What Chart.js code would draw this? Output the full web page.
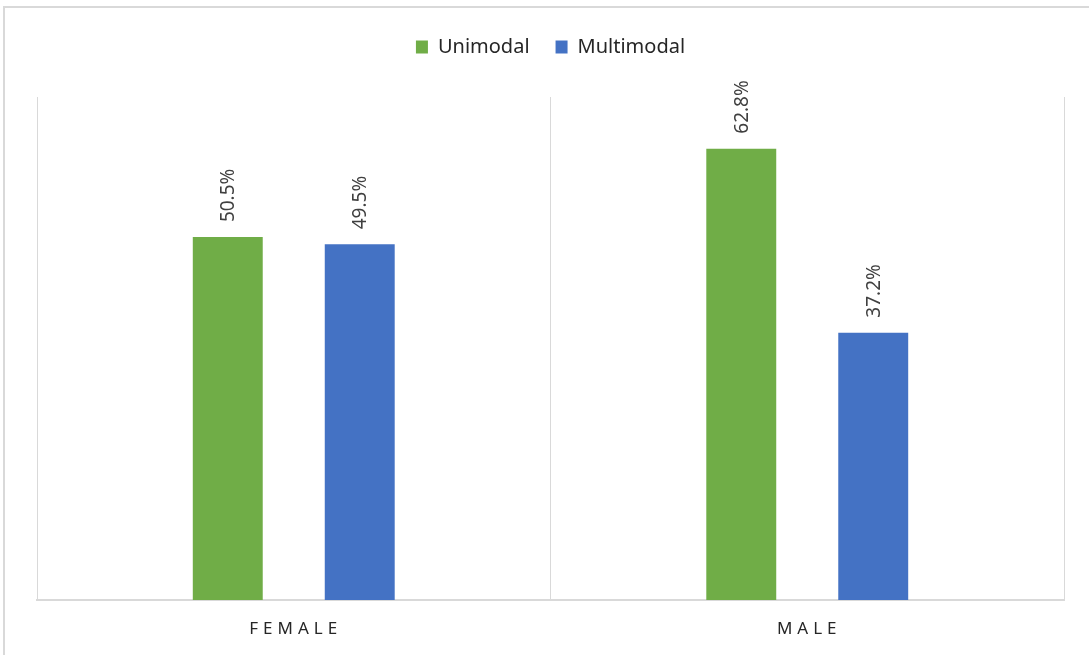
<!DOCTYPE html>
<html>
<head>
<meta charset="utf-8">
<script src="https://cdn.jsdelivr.net/npm/chart.js@4/dist/chart.umd.min.js"></script>
<style>
  html, body { margin: 0; padding: 0; background: #fff; }
  #wrap { width: 1089px; height: 655px; }
</style>
</head>
<body>
<div id="wrap"><canvas id="chart" width="1089" height="655"></canvas></div>
<script>
// data
const categories = ["FEMALE", "MALE"];
const unimodal = [50.5, 62.8];
const multimodal = [49.5, 37.2];
const yMax = 70;

const FONT = "'Noto Sans', sans-serif";

// border around the chart + rotated value labels + spaced category labels
const decorPlugin = {
  id: "decor",
  beforeInit(chart) {
    const fit = chart.legend.fit;
    chart.legend.fit = function () {
      fit.call(this);
      this.height += 30;
    };
  },
  beforeDraw(chart) {
    const ctx = chart.ctx;
    ctx.save();
    ctx.strokeStyle = "#d9d9d9";
    ctx.lineWidth = 2;
    ctx.beginPath();
    ctx.moveTo(4, 655);
    ctx.lineTo(4, 7);
    ctx.lineTo(1089, 7);
    ctx.stroke();
    ctx.restore();
  },
  afterDatasetsDraw(chart) {
    const ctx = chart.ctx;
    ctx.save();
    ctx.fillStyle = "#404040";
    ctx.font = "19px " + FONT;
    ctx.textAlign = "left";
    ctx.textBaseline = "middle";
    chart.data.datasets.forEach((ds, i) => {
      chart.getDatasetMeta(i).data.forEach((bar, j) => {
        ctx.save();
        ctx.translate(bar.x + 1, bar.y - 15);
        ctx.rotate(-Math.PI / 2);
        ctx.fillText(ds.data[j].toFixed(1) + "%", 0, 0);
        ctx.restore();
      });
    });
    // category labels with letter spacing
    const x = chart.scales.x;
    ctx.fillStyle = "#262626";
    ctx.font = "17px " + FONT;
    ctx.letterSpacing = "5px";
    ctx.textAlign = "center";
    categories.forEach((c, i) => {
      ctx.fillText(c, x.getPixelForTick(i) + 2, 629);
    });
    ctx.restore();
  }
};

new Chart(document.getElementById("chart").getContext("2d"), {
  type: "bar",
  data: {
    labels: categories,
    datasets: [
      { label: "Unimodal", data: unimodal, backgroundColor: "#70ad47",
        categoryPercentage: 0.514, barPercentage: 0.53 },
      { label: "Multimodal", data: multimodal, backgroundColor: "#4472c4",
        categoryPercentage: 0.514, barPercentage: 0.53 }
    ]
  },
  options: {
    responsive: false,
    animation: false,
    layout: { padding: { left: 37, right: 25, top: 11, bottom: 55 } },
    plugins: {
      legend: {
        position: "top",
        labels: {
          font: { family: FONT, size: 20 },
          color: "#262626",
          boxWidth: 12,
          boxHeight: 13,
          padding: 26
        }
      },
      tooltip: { enabled: false }
    },
    scales: {
      x: {
        grid: { color: "#d9d9d9", drawTicks: false, offset: true },
        border: { color: "#d9d9d9", width: 2 },
        ticks: { display: false }
      },
      y: {
        display: false,
        min: 0,
        max: yMax
      }
    }
  },
  plugins: [decorPlugin]
});
</script>
</body>
</html>
